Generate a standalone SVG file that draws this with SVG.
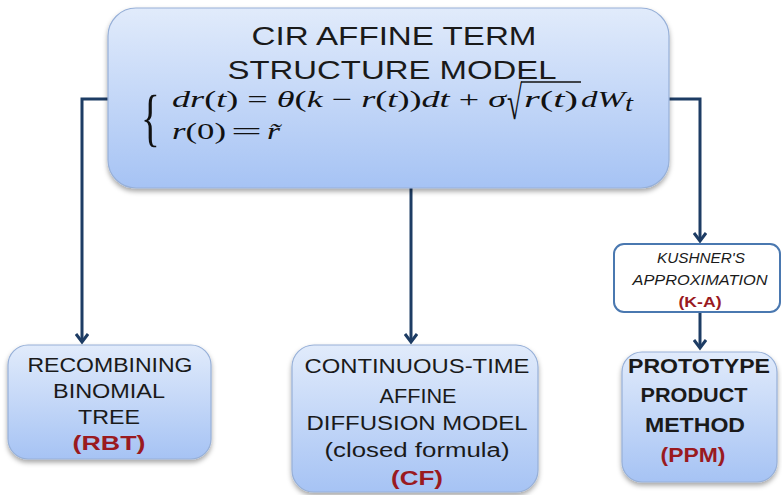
<svg xmlns="http://www.w3.org/2000/svg" width="782" height="495" viewBox="0 0 782 495">
<defs>
<linearGradient id="g" x1="0" y1="0" x2="0" y2="1">
<stop offset="0" stop-color="#e1ebfb"/>
<stop offset="1" stop-color="#a6c3f4"/>
</linearGradient>
<filter id="sh" x="-10%" y="-10%" width="120%" height="130%">
<feDropShadow dx="0" dy="3" stdDeviation="2.5" flood-color="#000" flood-opacity="0.35"/>
</filter>
<marker id="arr" viewBox="0 0 14 14" refX="11" refY="7" markerWidth="14" markerHeight="14" markerUnits="userSpaceOnUse" orient="auto">
<path d="M3,1 L11,7 L3,13" fill="none" stroke="#1d3c64" stroke-width="3" stroke-linejoin="miter"/>
</marker>
<style>
.box{fill:url(#g);stroke:#97b0d8;stroke-width:1.2;filter:url(#sh)}
.conn{fill:none;stroke:#1d3c64;stroke-width:3}
.t{font-family:"Liberation Sans",Arial,sans-serif;fill:#1a1a1a;text-anchor:middle}
.red{fill:#9a1a1f;font-weight:bold}
.m{font-family:"Liberation Serif","Times New Roman",serif;font-size:23px;fill:#111}
.i{font-style:italic}
</style>
</defs>
<g id="connectors">
<polyline class="conn" points="110,99 82,99 82,342" marker-end="url(#arr)"/>
<line class="conn" x1="411" y1="188" x2="411" y2="342" marker-end="url(#arr)"/>
<polyline class="conn" points="668,99 700,99 700,241" marker-end="url(#arr)"/>
<line class="conn" x1="700" y1="312" x2="700" y2="348" marker-end="url(#arr)"/>
</g>
<g id="cir">
<rect class="box" x="108" y="8" width="561" height="180" rx="28"/>
<text class="t" x="394" y="45" font-size="25" textLength="285" lengthAdjust="spacingAndGlyphs">CIR AFFINE TERM</text>
<text class="t" x="392" y="79" font-size="25" textLength="329" lengthAdjust="spacingAndGlyphs">STRUCTURE MODEL</text>
<text class="m" font-size="34" transform="translate(141 139) scale(1.7 2.78)">{</text>
<text class="m" x="172" y="107" textLength="334" lengthAdjust="spacingAndGlyphs"><tspan class="i">dr</tspan>(<tspan class="i">t</tspan>) = <tspan class="i">θ</tspan>(<tspan class="i">k</tspan> − <tspan class="i">r</tspan>(<tspan class="i">t</tspan>))<tspan class="i">dt</tspan> + <tspan class="i">σ</tspan></text>
<text class="m" font-size="40" textLength="15" lengthAdjust="spacingAndGlyphs" transform="translate(507 119) scale(1 2.05)">√</text>
<line x1="521" y1="82" x2="581" y2="82" stroke="#111" stroke-width="1.3"/>
<text class="m" x="524" y="107" textLength="54" lengthAdjust="spacingAndGlyphs"><tspan class="i">r</tspan>(<tspan class="i">t</tspan>)</text>
<text class="m i" x="581" y="107" textLength="44" lengthAdjust="spacingAndGlyphs">dW</text>
<text class="m i" x="625" y="111" font-size="15" textLength="8" lengthAdjust="spacingAndGlyphs">t</text>
<text class="m" x="172" y="139" textLength="54" lengthAdjust="spacingAndGlyphs"><tspan class="i">r</tspan>(0)</text>
<text class="m" x="231" y="139" textLength="31" lengthAdjust="spacingAndGlyphs">=</text>
<text class="m i" x="267" y="139" textLength="13" lengthAdjust="spacingAndGlyphs">r̃</text>
</g>
<g id="rbt">
<rect class="box" x="8" y="345" width="203" height="114" rx="20"/>
<text class="t" x="110" y="372" font-size="19.5" textLength="165" lengthAdjust="spacingAndGlyphs">RECOMBINING</text>
<text class="t" x="109" y="398" font-size="19.5" textLength="112" lengthAdjust="spacingAndGlyphs">BINOMIAL</text>
<text class="t" x="109" y="424" font-size="19.5" textLength="62" lengthAdjust="spacingAndGlyphs">TREE</text>
<text class="t red" x="109" y="450" font-size="19.5" textLength="73" lengthAdjust="spacingAndGlyphs">(RBT)</text>
</g>
<g id="cf">
<rect class="box" x="292" y="345" width="246" height="147" rx="22"/>
<text class="t" x="417" y="373" font-size="19.5" textLength="225" lengthAdjust="spacingAndGlyphs">CONTINUOUS-TIME</text>
<text class="t" x="418" y="403" font-size="19.5" textLength="77" lengthAdjust="spacingAndGlyphs">AFFINE</text>
<text class="t" x="417" y="430" font-size="19.5" textLength="221" lengthAdjust="spacingAndGlyphs">DIFFUSION MODEL</text>
<text class="t" x="417" y="457" font-size="19.5" textLength="185" lengthAdjust="spacingAndGlyphs">(closed formula)</text>
<text class="t red" x="417" y="485" font-size="19.5" textLength="52" lengthAdjust="spacingAndGlyphs">(CF)</text>
</g>
<g id="ka">
<rect x="614" y="244" width="166" height="68" rx="10" fill="#fff" stroke="#4a78b0" stroke-width="2"/>
<text class="t" x="701" y="263" font-size="15" font-style="italic" fill="#333" textLength="88" lengthAdjust="spacingAndGlyphs">KUSHNER'S</text>
<text class="t" x="700" y="285" font-size="15" font-style="italic" fill="#333" textLength="135" lengthAdjust="spacingAndGlyphs">APPROXIMATION</text>
<text class="t red" x="700" y="307" font-size="15" textLength="43" lengthAdjust="spacingAndGlyphs">(K-A)</text>
</g>
<g id="ppm">
<rect class="box" x="622" y="352" width="155" height="130" rx="20"/>
<text class="t" x="699" y="373" font-size="21" font-weight="bold" fill="#000" textLength="142" lengthAdjust="spacingAndGlyphs">PROTOTYPE</text>
<text class="t" x="694" y="402" font-size="21" font-weight="bold" fill="#000" textLength="107" lengthAdjust="spacingAndGlyphs">PRODUCT</text>
<text class="t" x="695" y="432" font-size="21" font-weight="bold" fill="#000" textLength="100" lengthAdjust="spacingAndGlyphs">METHOD</text>
<text class="t red" x="693" y="462" font-size="21" textLength="65" lengthAdjust="spacingAndGlyphs">(PPM)</text>
</g>
</svg>
